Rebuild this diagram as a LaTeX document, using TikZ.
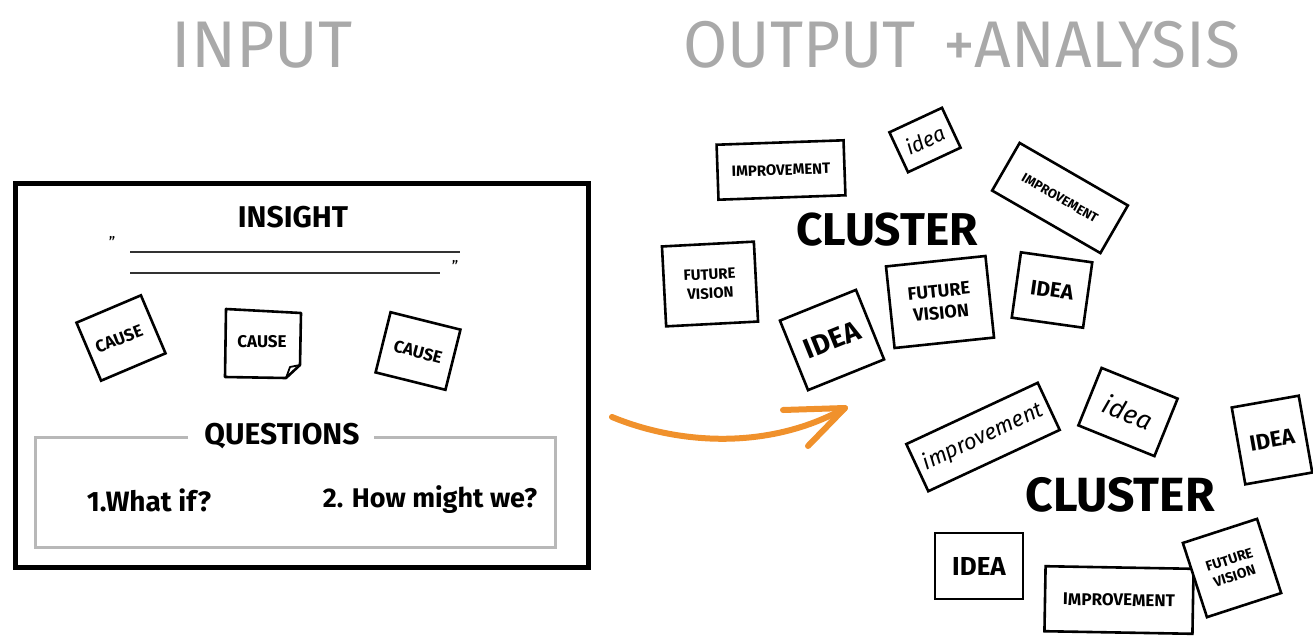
\documentclass[tikz,border=0pt]{standalone}
\usepackage{fontspec}
\setmainfont{Fira Sans}
\usetikzlibrary{arrows.meta}
\definecolor{titlegray}{HTML}{A9A9A9}
\definecolor{boxgray}{HTML}{B8B8B8}
\definecolor{arroworange}{HTML}{F0912C}
\newcommand\myfs[1]{\fontsize{#1}{#1}\selectfont}
\begin{document}
\begin{tikzpicture}[x=1pt,y=-1pt,
  title/.style={text=titlegray,font=\myfs{66}},
  label/.style={text=black,font=\bfseries\myfs{#1}},
  note/.style={draw=black,line width=2.6pt,fill=white,inner sep=0pt,align=center},
  notefont/.style={font=\bfseries\myfs{#1}},
  itfont/.style={font=\itshape\myfs{#1}},
  arrowline/.style={arroworange,line width=6pt,line cap=round,line join=round},
]
\useasboundingbox (0,0) rectangle (1313,640);
% titles
\node[title] (input) at (262,45) {INPUT};
\node[title,xscale=0.97] (output) at (962,45) {OUTPUT \,+ANALYSIS};
% input box
\node[draw=black,line width=5pt,minimum width=573pt,minimum height=384pt] (inputbox) at (301.5,375) {};
\node[label=30] (insight) at (293,217) {INSIGHT};
\node[font=\myfs{16}] (q1) at (112,242) {"};
\node[font=\myfs{16}] (q2) at (455,266) {"};
\draw[line width=1.6pt,black!80] (130,252) -- (460,252);
\draw[line width=1.6pt,black!80] (130,273) -- (440,273);
% causes
\node[note,minimum width=70pt,minimum height=63pt,rotate=23] (cause1) at (121,338) {};
\node[notefont=17,rotate=21] (cause1t) at (119,339) {CAUSE};
\draw[black,line width=2.6pt,fill=white,line join=round] (226,309) -- (301,313) -- (300,365) -- (286,378) -- (225,377) -- cycle;
\draw[black,line width=1.8pt,line join=round] (300,365) -- (290,367) -- (286,378);
\node[notefont=17] (cause2) at (262,342) {CAUSE};
\node[note,minimum width=72pt,minimum height=62pt,rotate=-14] (cause3) at (418,351) {};
\node[notefont=17,rotate=-15] (cause3t) at (418,352) {CAUSE};
% questions
\draw[boxgray,line width=3pt] (188,437) -- (35,437) -- (35,547) -- (555,547) -- (555,437) -- (374,437);
\node[label=30] (questions) at (282,436) {QUESTIONS};
\node[label=28] (qa) at (149,500) {1.What if?};
\node[label=27] (qb) at (430,500) {2. How might we?};
% arrow
\coordinate (a0) at (612,417);
\coordinate (a1) at (845,408);
\coordinate (h1) at (783,410);
\coordinate (h2) at (808,446);
\draw[arrowline] (a0) .. controls (680,445) and (770,450) .. (a1);
\draw[arrowline] (h1) -- (a1) -- (h2);
% cluster 1
\node[note,minimum width=127pt,minimum height=55pt,rotate=2,notefont=15] (imp1) at (781,170) {IMPROVEMENT};
\node[note,minimum width=58pt,minimum height=44pt,rotate=25,itfont=21] (idea1) at (925,140) {idea};
\node[note,minimum width=125pt,minimum height=55pt,rotate=-30,notefont=13] (imp2) at (1060,198) {IMPROVEMENT};
\node[label=46] (cluster1) at (887,230) {CLUSTER};
\node[note,minimum width=92pt,minimum height=80pt,rotate=3,notefont=15] (fv1) at (710,284) {FUTURE\\[4pt]VISION};
\node[note,minimum width=100pt,minimum height=82pt,rotate=6,notefont=18] (fv2) at (940,302) {FUTURE\\[4pt]VISION};
\node[note,minimum width=72pt,minimum height=66pt,rotate=-8,notefont=21] (idea2) at (1052,290) {IDEA};
\node[note,minimum width=82pt,minimum height=75pt,rotate=22,notefont=28] (idea3) at (832,340) {IDEA};
% cluster 2
\node[note,minimum width=145pt,minimum height=52pt,rotate=25,itfont=22] (imp3) at (983,437) {improvement};
\node[note,minimum width=82pt,minimum height=62pt,rotate=-22,itfont=26] (idea4) at (1128,412) {idea};
\node[note,minimum width=68pt,minimum height=78pt,rotate=10,notefont=22] (idea5) at (1272,440) {IDEA};
\node[label=48] (cluster2) at (1120,495) {CLUSTER};
\node[note,minimum width=88pt,minimum height=66pt,notefont=26] (idea6) at (979,566) {IDEA};
\node[note,minimum width=148pt,minimum height=65pt,rotate=-1,notefont=17] (imp4) at (1119,600) {IMPROVEMENT};
\node[note,minimum width=78pt,minimum height=78pt,rotate=18,notefont=14] (fv3) at (1232,568) {FUTURE\\[3pt]VISION};
\end{tikzpicture}
\end{document}
